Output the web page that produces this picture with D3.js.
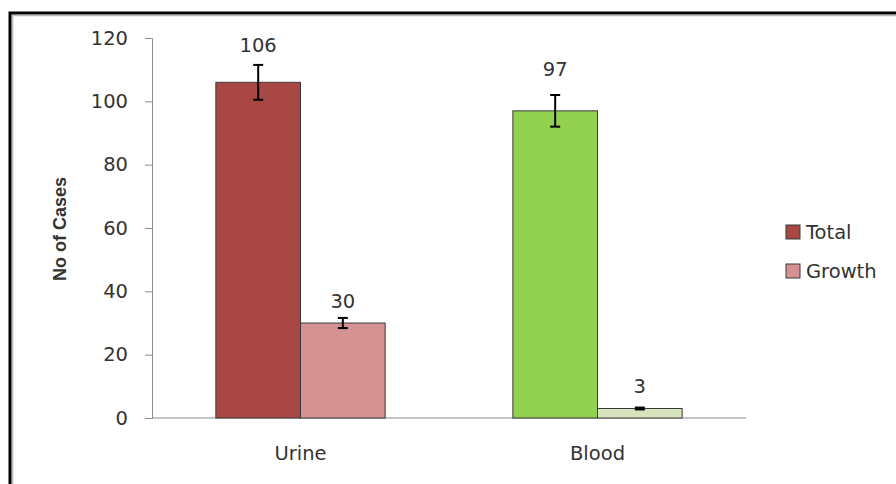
<!DOCTYPE html>
<meta charset="utf-8">
<script src="https://cdn.jsdelivr.net/npm/d3@7/dist/d3.min.js"></script>
<style>
body { margin: 0; background: #fff; }
text { font-family: "DejaVu Sans", sans-serif; fill: #333; }
</style>
<body>
<script>

// chart values
var categories = ["Urine", "Blood"];
var series = ["Total", "Growth"];
var totalValues = [106, 97];
var growthValues = [30, 3];
var totalErrors = [5.5, 5];
var growthErrors = [1.6, 0.3];
var yTicks = [0, 20, 40, 60, 80, 100, 120];

var barColors = {
  Urine: ["#a84744", "#d49392"],
  Blood: ["#92d050", "#d7e4bd"]
};
// gap between error bar top and its label (labels were nudged by hand)
var labelGaps = [13, 10, 19, 15];

var width = 896, height = 484;

var svg = d3.select("body").append("svg")
    .attr("width", width)
    .attr("height", height);

// frame with shadow
svg.append("path")
    .attr("d", "M12.5,490 V15.5 H900")
    .attr("fill", "none")
    .attr("stroke", "#bbb")
    .attr("stroke-width", 1.5);
svg.append("path")
    .attr("d", "M10,490 V13 H900")
    .attr("fill", "none")
    .attr("stroke", "#000")
    .attr("stroke-width", 3);

var margin = {left: 152, top: 38, right: 746, bottom: 418};

var x0 = d3.scaleBand()
    .domain(categories)
    .range([margin.left, margin.right])
    .paddingInner(0.43)
    .paddingOuter(0.215);

var x1 = d3.scaleBand()
    .domain(series)
    .range([0, x0.bandwidth()]);

var y = d3.scaleLinear()
    .domain([0, 120])
    .range([margin.bottom, margin.top]);

var data = [];
categories.forEach(function(c, i) {
  data.push({cat: c, ser: "Total", value: totalValues[i], err: totalErrors[i], color: barColors[c][0]});
  data.push({cat: c, ser: "Growth", value: growthValues[i], err: growthErrors[i], color: barColors[c][1]});
});

// y axis
var yAxis = svg.append("g")
    .attr("transform", "translate(" + margin.left + ",0)")
    .call(d3.axisLeft(y).tickValues(yTicks).tickSize(7).tickPadding(17));
yAxis.select(".domain").attr("stroke", "#8c8c8c");
yAxis.selectAll(".tick line").attr("stroke", "#8c8c8c");
yAxis.selectAll(".tick text")
    .style("font-family", "'DejaVu Sans', sans-serif")
    .style("font-size", "19.5px")
    .attr("fill", "#333");

// x axis line
svg.append("line")
    .attr("x1", margin.left).attr("x2", margin.right)
    .attr("y1", y(0)).attr("y2", y(0))
    .attr("stroke", "#8c8c8c");

// bars
svg.append("g").selectAll("rect")
    .data(data)
    .enter().append("rect")
    .attr("x", function(d) { return x0(d.cat) + x1(d.ser); })
    .attr("y", function(d) { return y(d.value); })
    .attr("width", x1.bandwidth())
    .attr("height", function(d) { return y(0) - y(d.value); })
    .attr("fill", function(d) { return d.color; })
    .attr("stroke", "#3a3a3a")
    .attr("stroke-width", 1);

// error bars
var eb = svg.append("g").selectAll("g")
    .data(data)
    .enter().append("g")
    .attr("stroke", "#000")
    .attr("stroke-width", 2);
function cx(d) { return x0(d.cat) + x1(d.ser) + x1.bandwidth() / 2; }
eb.append("line")
    .attr("x1", cx).attr("x2", cx)
    .attr("y1", function(d) { return y(d.value + d.err); })
    .attr("y2", function(d) { return y(d.value - d.err); });
eb.append("line")
    .attr("x1", function(d) { return cx(d) - 5; }).attr("x2", function(d) { return cx(d) + 5; })
    .attr("y1", function(d) { return y(d.value + d.err); })
    .attr("y2", function(d) { return y(d.value + d.err); });
eb.append("line")
    .attr("x1", function(d) { return cx(d) - 5; }).attr("x2", function(d) { return cx(d) + 5; })
    .attr("y1", function(d) { return y(d.value - d.err); })
    .attr("y2", function(d) { return y(d.value - d.err); });

// value labels
svg.append("g").selectAll("text")
    .data(data)
    .enter().append("text")
    .attr("x", cx)
    .attr("y", function(d, i) { return y(d.value + d.err) - labelGaps[i]; })
    .attr("text-anchor", "middle")
    .style("font-size", "19.5px")
    .text(function(d) { return d.value; });

// category labels
svg.append("g").selectAll("text")
    .data(categories)
    .enter().append("text")
    .attr("x", function(d) { return x0(d) + x0.bandwidth() / 2; })
    .attr("y", 460)
    .attr("text-anchor", "middle")
    .style("font-size", "19.5px")
    .text(function(d) { return d; });

// y title
svg.append("text")
    .attr("transform", "translate(66,229) rotate(-90)")
    .attr("text-anchor", "middle")
    .style("font-family", "'Liberation Sans', sans-serif")
    .style("font-weight", "bold")
    .style("font-size", "18px")
    .attr("fill", "#000")
    .text("No of Cases");

// legend
var legend = svg.append("g").selectAll("g")
    .data(series)
    .enter().append("g")
    .attr("transform", function(d, i) { return "translate(786," + (225 + i * 39) + ")"; });
legend.append("rect")
    .attr("width", 14).attr("height", 14)
    .attr("fill", function(d, i) { return barColors.Urine[i]; })
    .attr("stroke", "#3a3a3a");
legend.append("text")
    .attr("x", 20).attr("y", 14)
    .style("font-size", "19.5px")
    .text(function(d) { return d; });

</script>
</body>
